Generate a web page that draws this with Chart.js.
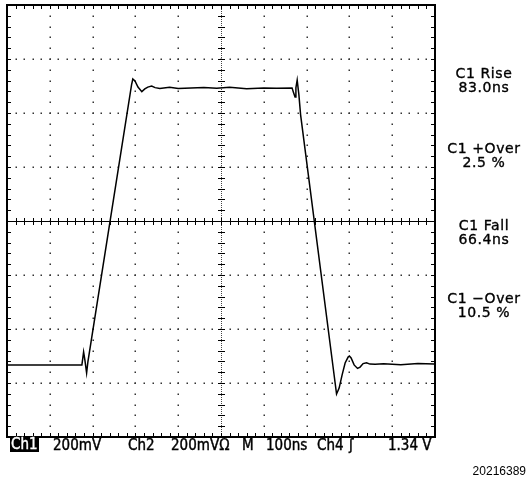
<!DOCTYPE html>
<html>
<head>
<meta charset="utf-8">
<script src="https://cdn.jsdelivr.net/npm/chart.js@4/dist/chart.umd.min.js"></script>
<style>
    html, body { margin: 0; padding: 0; background: #fff; }
    #wrap { position: relative; width: 527px; height: 482px; }
    #myChart { position: absolute; left: 0; top: 0; }
    .lbl { position: absolute; font-family: "DejaVu Sans Condensed", "DejaVu Sans", sans-serif; font-size: 15px; line-height: 15px; color: #000; white-space: pre; -webkit-text-stroke: 0.4px #000; }
    .inv { background: #000; color: #fff; padding: 0 1px; -webkit-text-stroke: 0.4px #fff; }
    .meas { position: absolute; left: 440px; width: 88px; text-align: center; font-family: "DejaVu Sans", sans-serif; font-size: 14px; line-height: 14px; letter-spacing: 0.6px; color: #000; -webkit-text-stroke: 0.35px #000; }
    .fig { position: absolute; right: 1px; top: 465px; font-family: "Liberation Sans", Arial, sans-serif; font-size: 12px; line-height: 12px; color: #000; }
</style>
</head>
<body>
<div id="wrap">
    <canvas id="myChart" width="527" height="482"></canvas>
    <!-- 底部通道信息 -->
    <div class="lbl inv" style="left:10px;top:437px;">Ch1</div>
    <div class="lbl" style="left:53px;top:438px;">200mV</div>
    <div class="lbl" style="left:128px;top:438px;">Ch2</div>
    <div class="lbl" style="left:171px;top:438px;">200mVΩ</div>
    <div class="lbl" style="left:242px;top:438px;">M</div>
    <div class="lbl" style="left:266px;top:438px;">100ns</div>
    <div class="lbl" style="left:317px;top:438px;">Ch4</div>
    <div class="lbl" style="left:349px;top:438px;">ʃ</div>
    <div class="lbl" style="left:388px;top:438px;">1.34 V</div>
    <!-- 右侧测量值 -->
    <div class="meas" style="top:66px;">C1 Rise<br>83.0ns</div>
    <div class="meas" style="top:141px;">C1 +Over<br>2.5 %</div>
    <div class="meas" style="top:218px;">C1 Fall<br>66.4ns</div>
    <div class="meas" style="top:291px;">C1 −Over<br>10.5 %</div>
    <div class="fig">20216389</div>
</div>
<script>
// 时间轴 (ns) 与 电压 (mV), 100ns/div, 200mV/div
var timeNs = [-498, -325, -321, -318, -314, -311, -209, -206, -201, -194, -185, -178, -171, -162, -154, -143,
    -120, -100, -70, -40, -10, 20, 60, 100, 130, 166, 169, 173, 175, 178, 182, 186,
    270, 276, 283, 290, 297, 300, 304, 311, 319, 325, 332, 340, 348, 360, 380, 420, 460, 498];
var voltsMv = [-533, -533, -485, -515, -563, -522, 504, 526, 519, 496, 479, 489, 496, 500, 494, 491,
    495, 491, 493, 494, 492, 495, 490, 493, 492, 493, 478, 459, 493, 522, 467, 393,
    -641, -619, -570, -526, -504, -500, -507, -533, -546, -541, -528, -525, -530, -531, -529, -532, -528, -530];

// 屏幕刻度
var xMin = -500, xMax = 500, xDiv = 100;
var yMin = -800, yMax = 800, yDiv = 200;
var minorPerDiv = 5;

var points = [];
for (var i = 0; i < timeNs.length; i++) {
    points.push({x: timeNs[i], y: voltsMv[i]});
}

// 示波器网格
var graticule = {
    id: 'graticule',
    beforeDatasetsDraw: function (chart) {
        var ctx = chart.ctx;
        var a = chart.chartArea;
        var sx = chart.scales.x, sy = chart.scales.y;
        var xm = xDiv / minorPerDiv, ym = yDiv / minorPerDiv;
        var cx = Math.round(sx.getPixelForValue(0)), cy = Math.round(sy.getPixelForValue(0));
        var gx, gy, px, py;
        ctx.save();
        ctx.fillStyle = '#333';
        // 点线 (竖)
        for (gx = xMin + xDiv; gx < xMax; gx += xDiv) {
            if (gx === 0) continue;
            px = Math.round(sx.getPixelForValue(gx));
            for (gy = yMin + ym; gy < yMax; gy += ym) {
                py = Math.round(sy.getPixelForValue(gy));
                ctx.fillRect(px - 0.5, py - 0.5, 1.5, 1.5);
            }
        }
        // 点线 (横)
        for (gy = yMin + yDiv; gy < yMax; gy += yDiv) {
            if (gy === 0) continue;
            py = Math.round(sy.getPixelForValue(gy));
            for (gx = xMin + xm; gx < xMax; gx += xm) {
                px = Math.round(sx.getPixelForValue(gx));
                ctx.fillRect(px - 0.5, py - 0.5, 1.5, 1.5);
            }
        }
        ctx.strokeStyle = '#000';
        ctx.lineWidth = 1;
        // 中心横线
        ctx.beginPath();
        ctx.moveTo(a.left, cy + 0.5);
        ctx.lineTo(a.right, cy + 0.5);
        ctx.stroke();
        // 中心竖线
        ctx.strokeStyle = '#444';
        ctx.setLineDash([1, 1]);
        ctx.beginPath();
        ctx.moveTo(cx + 0.5, a.top);
        ctx.lineTo(cx + 0.5, a.bottom);
        ctx.stroke();
        ctx.setLineDash([]);
        ctx.strokeStyle = '#000';
        // 中心及边框小刻度
        ctx.beginPath();
        for (gx = xMin + xm; gx < xMax; gx += xm) {
            px = Math.round(sx.getPixelForValue(gx)) + 0.5;
            ctx.moveTo(px, cy - 3); ctx.lineTo(px, cy + 4);
            ctx.moveTo(px, a.top); ctx.lineTo(px, a.top + 4);
            ctx.moveTo(px, a.bottom); ctx.lineTo(px, a.bottom - 4);
        }
        for (gy = yMin + ym; gy < yMax; gy += ym) {
            py = Math.round(sy.getPixelForValue(gy)) + 0.5;
            ctx.moveTo(cx - 3, py); ctx.lineTo(cx + 4, py);
            ctx.moveTo(a.left, py); ctx.lineTo(a.left + 4, py);
            ctx.moveTo(a.right, py); ctx.lineTo(a.right - 4, py);
        }
        ctx.stroke();
        // 外框
        ctx.lineWidth = 2;
        ctx.strokeRect(a.left, a.top, a.right - a.left, a.bottom - a.top);
        ctx.restore();
    }
};

var ctx = document.getElementById("myChart").getContext("2d");
var scopeChart = new Chart(ctx, {
    type: 'line',
    data: {
        datasets: [{
            label: 'Ch1',
            data: points,
            borderColor: '#000',
            borderWidth: 1.5,
            pointRadius: 0,
            tension: 0,
            fill: false
        }]
    },
    options: {
        responsive: false,
        animation: false,
        layout: {padding: {left: 7, right: 92, top: 5, bottom: 45}},
        plugins: {legend: {display: false}, tooltip: {enabled: false}},
        scales: {
            x: {type: 'linear', min: xMin, max: xMax, display: false},
            y: {type: 'linear', min: yMin, max: yMax, display: false}
        }
    },
    plugins: [graticule]
});
</script>
</body>
</html>
